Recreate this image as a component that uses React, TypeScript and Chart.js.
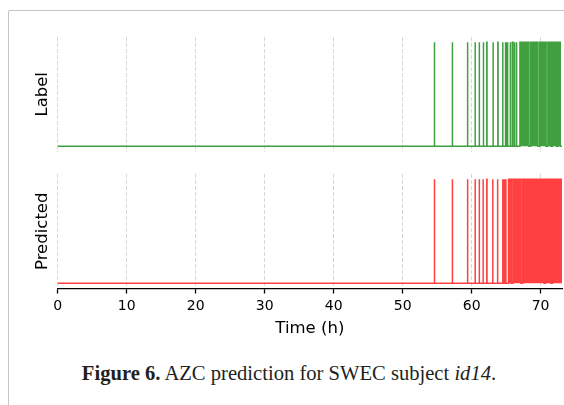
import React, { useEffect, useRef } from 'react';
import { Chart, registerables } from 'chart.js';

Chart.register(...registerables);

// ---- data ----
const xTickValues = [0, 10, 20, 30, 40, 50, 60, 70];
const xMin = 0;
const xMax = 73.1;
const xTitle = 'Time (h)';
const panelTitles = ['Label', 'Predicted'];

// seizure-positive intervals (hours)
const labelIntervals: [number, number][] = [
  [54.6, 54.63], [57.2, 57.23], [59.4, 59.43], [60.5, 60.53], [61.1, 61.13],
  [61.7, 61.73], [62.2, 62.23], [63.1, 63.13], [63.8, 63.83], [64.5, 64.53],
  [64.9, 64.93], [65.05, 65.08], [65.2, 65.23], [65.6, 65.63], [65.9, 66.0],
  [66.15, 66.28], [66.5, 66.53], [67.0, 68.3], [68.55, 69.6], [69.85, 70.8],
  [71.05, 71.5], [71.72, 72.3], [72.52, 72.85],
];

const predictedIntervals: [number, number][] = [
  [54.6, 54.63], [57.2, 57.23], [59.4, 59.43], [60.5, 60.53], [61.1, 61.13],
  [61.65, 61.68], [62.2, 62.23], [63.05, 63.08], [63.75, 63.78], [64.5, 64.53],
  [64.65, 64.68], [64.8, 64.83], [64.95, 64.98], [65.35, 65.75], [65.98, 67.15],
  [67.38, 70.5], [70.72, 71.5], [71.72, 73.1],
];

const caption = {
  bold: 'Figure 6.',
  text: ' AZC prediction for SWEC subject ',
  italic: 'id14',
  end: '.',
};

// ---- helpers ----
function toPoints(intervals: [number, number][]) {
  const pts: { x: number; y: number }[] = [{ x: xMin, y: 0 }];
  for (const [s, e] of intervals) {
    pts.push({ x: s, y: 0 }, { x: s, y: 1 }, { x: e, y: 1 }, { x: e, y: 0 });
  }
  pts.push({ x: xMax, y: 0 });
  return pts;
}

const GRID = 'rgba(175,175,175,0.5)';
const FONT = 'DejaVu Sans';
const AREA_LEFT = 57.7;

function makeChart(
  canvas: HTMLCanvasElement,
  intervals: [number, number][],
  color: string,
  yTitle: string,
  bottomAxis: boolean,
  padTop: number,
  padBottom: number
) {
  return new Chart(canvas, {
    type: 'line',
    data: {
      datasets: [
        {
          data: toPoints(intervals),
          borderColor: color,
          backgroundColor: color,
          borderWidth: 1.5,
          pointRadius: 0,
          tension: 0,
          fill: 'origin',
        },
      ],
    },
    options: {
      animation: false,
      responsive: false,
      maintainAspectRatio: false,
      layout: { padding: { left: 0, right: 2, top: padTop, bottom: padBottom } },
      plugins: { legend: { display: false }, tooltip: { enabled: false } },
      scales: {
        x: {
          type: 'linear',
          min: xMin,
          max: xMax,
          afterBuildTicks: (s: any) => {
            s.ticks = xTickValues.map((v) => ({ value: v }));
          },
          ticks: {
            display: bottomAxis,
            includeBounds: false,
            maxRotation: 0,
            autoSkip: false,
            padding: 4,
            color: '#000',
            font: { family: FONT, size: 14 },
          },
          grid: {
            color: GRID,
            lineWidth: 1,
            drawTicks: bottomAxis,
            tickLength: 5,
            tickColor: '#000',
            tickWidth: 1.3,
            tickBorderDash: [],
          },
          border: { display: bottomAxis, color: '#000', width: 1.3, dash: [4, 2] },
          title: {
            display: bottomAxis,
            text: xTitle,
            color: '#000',
            font: { family: FONT, size: 16.5 },
            padding: { top: 0, bottom: 6.5 },
          },
          afterFit: (s: any) => {
            s.height = bottomAxis ? 56.5 : 0;
          },
        },
        y: {
          min: -0.05,
          max: 1.05,
          ticks: { display: false },
          grid: { display: false },
          border: { display: false },
          title: {
            display: true,
            text: yTitle,
            color: '#000',
            font: { family: FONT, size: 16.5 },
            padding: { top: 33, bottom: 0 },
          },
          afterFit: (s: any) => {
            s.width = AREA_LEFT;
          },
        },
      },
    },
  });
}

export default function App() {
  const ref1 = useRef<HTMLCanvasElement>(null);
  const ref2 = useRef<HTMLCanvasElement>(null);

  useEffect(() => {
    const c1 = makeChart(ref1.current!, labelIntervals, '#40a040', panelTitles[0], false, 37.1, 8.5);
    const c2 = makeChart(ref2.current!, predictedIntervals, '#ff4040', panelTitles[1], true, 14, 0);
    return () => {
      c1.destroy();
      c2.destroy();
    };
  }, []);

  return (
    <div
      style={{
        position: 'fixed',
        left: 0,
        top: 0,
        width: 564,
        height: 405,
        background: '#fff',
        overflow: 'hidden',
      }}
    >
      <div
        style={{
          position: 'absolute',
          left: 8,
          top: 10,
          width: 620,
          height: 420,
          borderTop: '1.5px solid #c4c4c4',
          borderLeft: '1.5px solid #c4c4c4',
          borderTopLeftRadius: 2,
        }}
      />
      <canvas
        ref={ref1}
        width={564}
        height={160}
        style={{ position: 'absolute', left: 0, top: 0, width: 564, height: 160, display: 'block' }}
      />
      <canvas
        ref={ref2}
        width={564}
        height={185}
        style={{ position: 'absolute', left: 0, top: 160, width: 564, height: 185, display: 'block' }}
      />
      <div
        style={{
          position: 'absolute',
          left: 0,
          width: 578,
          top: 361,
          textAlign: 'center',
          whiteSpace: 'nowrap',
          fontFamily: '"Liberation Serif", serif',
          fontSize: 20.6,
          color: '#231f20',
          lineHeight: '24px',
        }}
      >
        <b>{caption.bold}</b>
        {caption.text}
        <i>{caption.italic}</i>
        {caption.end}
      </div>
    </div>
  );
}
